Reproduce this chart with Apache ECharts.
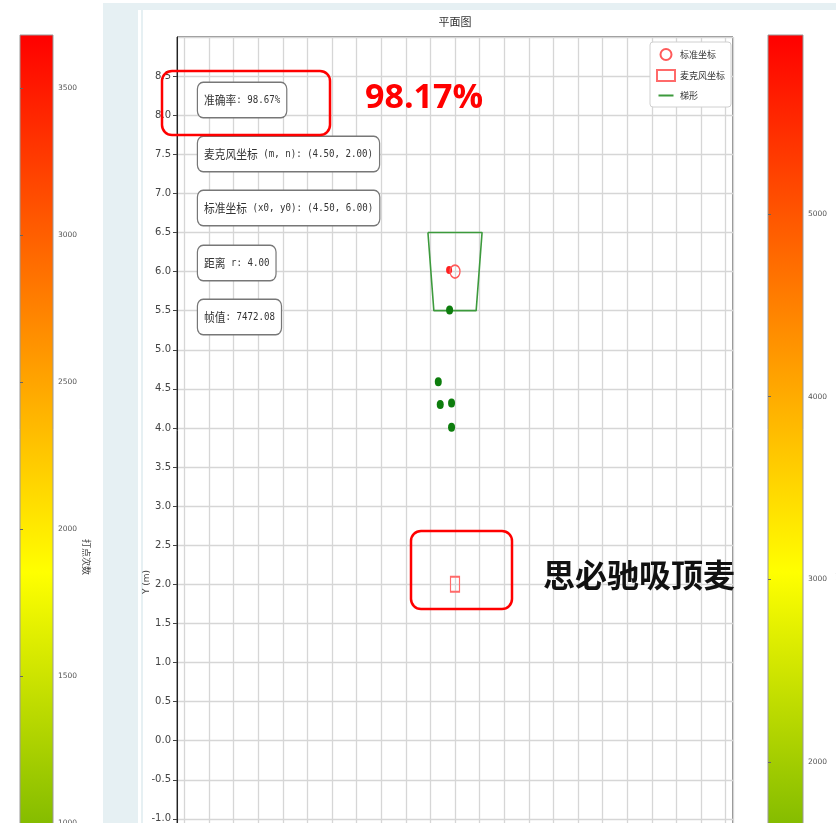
<!DOCTYPE html>
<html>
<head>
<meta charset="utf-8">
<script src="https://cdn.jsdelivr.net/npm/echarts@6/dist/echarts.min.js"></script>
<style>
html, body { margin: 0; padding: 0; background: #fff; }
#chart { width: 836px; height: 823px; }
</style>
</head>
<body>
<div id="chart"></div>
<script>
// 数据
var standardPoint = [[4.5, 6.0]];
var micPoint = [[4.5, 2.0]];
var estimatePoint = [[4.38, 6.02]];
var hitPoints = [[4.39, 5.51], [4.16, 4.59], [4.2, 4.3], [4.43, 4.32], [4.43, 4.01]];
var trapezoid = [[3.95, 6.5], [5.05, 6.5], [4.93, 5.5], [4.07, 5.5], [3.95, 6.5]];
var xRange = [-1.15, 10.15];
var yRange = [-1.5, 9];
var leftBarRange = [993, 3680];
var rightBarRange = [1655, 5980];
var infoTexts = ['准确率: 98.67%', '麦克风坐标 (m, n): (4.50, 2.00)', '标准坐标 (x0, y0): (4.50, 6.00)', '距离 r: 4.00', '帧值: 7472.08'];
var infoTops = [83, 137, 191, 246, 300];

var cjk = '"Noto Sans CJK SC", sans-serif';
var num = '"DejaVu Sans", sans-serif';

var myChart = echarts.init(document.getElementById('chart'));

function barGradient() {
    return new echarts.graphic.LinearGradient(0, 0, 0, 1, [
        { offset: 0, color: '#ff0000' },
        { offset: 0.68, color: '#ffff00' },
        { offset: 1, color: '#84bc00' }
    ]);
}

// 中文用黑体, 西文用等宽半角
function toRich(t) {
    return t.replace(/([\u4e00-\u9fa5]+)|([^\u4e00-\u9fa5]+)/g, function (m, c, l) {
        return c ? '{c|' + c + '}' : '{l|' + l + '}';
    });
}

var graphics = [
    // 背景面板
    { type: 'rect', shape: { x: 103, y: 3, width: 733, height: 7 }, style: { fill: '#e6f0f3' }, z: -10 },
    { type: 'rect', shape: { x: 103, y: 3, width: 35, height: 820 }, style: { fill: '#e6f0f3' }, z: -10 },
    { type: 'rect', shape: { x: 141, y: 10, width: 2, height: 813 }, style: { fill: '#e6f0f3' }, z: -10 },
    { type: 'text', x: 455, y: 22, style: { text: '平面图', fill: '#333', font: '11px ' + cjk, align: 'center', verticalAlign: 'middle' } },
    { type: 'text', x: 147, y: 582, rotation: Math.PI / 2, style: { text: 'Y (m)', fill: '#444', font: '9px ' + num, align: 'center', verticalAlign: 'middle' } },
    { type: 'text', x: 86, y: 557, rotation: -Math.PI / 2, style: { text: '打点次数', fill: '#444', font: '9px ' + cjk, align: 'center', verticalAlign: 'middle' } },
    { type: 'text', x: 840, y: 580, rotation: -Math.PI / 2, style: { text: '帧值', fill: '#444', font: '9px ' + cjk, align: 'center', verticalAlign: 'middle' } }
];

infoTexts.forEach(function (t, i) {
    graphics.push({
        type: 'text',
        x: 198,
        y: infoTops[i],
        scaleX: 0.86,
        z: 50,
        style: {
            text: toRich(t),
            fill: '#333',
            backgroundColor: '#fff',
            borderColor: '#777',
            borderWidth: 1.4,
            borderRadius: 6,
            padding: [10, 7, 9, 7],
            rich: {
                c: { fontFamily: cjk, fontSize: 12.5, lineHeight: 15, fill: '#333' },
                l: { fontFamily: '"DejaVu Sans Mono", monospace', fontSize: 10.6, lineHeight: 15, fill: '#333' }
            }
        }
    });
});

// 后期标注
graphics.push(
    { type: 'rect', z: 100, shape: { x: 162, y: 71, width: 168, height: 64, r: 10 }, style: { fill: 'none', stroke: '#ff0000', lineWidth: 2.5 } },
    { type: 'text', z: 100, x: 365, y: 98, style: { text: '98.17%', fill: '#ff0000', font: 'bold 34px "Open Sans", sans-serif', verticalAlign: 'middle' } },
    { type: 'rect', z: 100, shape: { x: 411, y: 531, width: 101, height: 78, r: 10 }, style: { fill: 'none', stroke: '#ff0000', lineWidth: 2.5 } },
    { type: 'text', z: 100, x: 543, y: 575, style: { text: '思必驰吸顶麦', fill: '#111', font: 'bold 32px ' + cjk, verticalAlign: 'middle' } }
);

option = {
    animation: false,
    backgroundColor: '#fff',
    legend: {
        orient: 'vertical',
        left: 650,
        top: 42,
        itemWidth: 18,
        itemHeight: 11,
        itemGap: 8,
        padding: [6, 6, 6, 6],
        borderColor: '#d0d0d0',
        borderWidth: 1,
        borderRadius: 3,
        backgroundColor: '#fff',
        textStyle: { fontSize: 9, color: '#333', fontFamily: cjk },
        data: [
            { name: '标准坐标', icon: 'circle' },
            { name: '麦克风坐标', icon: 'rect' },
            { name: '梯形', icon: 'path://M0,0L0.01,0M0,9L30,9L30,13L0,13ZM0,22L0.01,22' }
        ]
    },
    grid: [
        { left: 177, top: 37, width: 556, height: 821, outerBoundsMode: 'none', show: true, borderColor: '#222', borderWidth: 1, backgroundColor: '#fff' },
        { left: 20, top: 35, width: 33, height: 790, outerBoundsMode: 'none', show: true, borderColor: '#999', borderWidth: 1, backgroundColor: barGradient() },
        { left: 768, top: 35, width: 35, height: 790, outerBoundsMode: 'none', show: true, borderColor: '#999', borderWidth: 1, backgroundColor: barGradient() }
    ],
    xAxis: [
        {
            type: 'value', gridIndex: 0, min: xRange[0], max: xRange[1], splitNumber: 22,
            axisLabel: { show: false }, axisTick: { show: false },
            axisLine: { show: false, onZero: false },
            splitLine: { show: true, lineStyle: { color: '#d6d6d6', width: 1.3 } }
        },
        { type: 'value', gridIndex: 1, show: false, min: 0, max: 1 },
        { type: 'value', gridIndex: 2, show: false, min: 0, max: 1 }
    ],
    yAxis: [
        {
            type: 'value', gridIndex: 0, min: yRange[0], max: yRange[1], interval: 0.5,
            axisLine: { show: true, onZero: false, lineStyle: { color: '#222' } },
            axisTick: { show: true, length: 4, lineStyle: { color: '#444' } },
            axisLabel: {
                fontSize: 10, color: '#444', fontFamily: num, margin: 6, showMaxLabel: false,
                formatter: function (v) { return v.toFixed(1); }
            },
            splitLine: { show: true, lineStyle: { color: '#d6d6d6', width: 1.3 } }
        },
        {
            type: 'value', gridIndex: 1, position: 'right', min: leftBarRange[0], max: leftBarRange[1], splitNumber: 5,
            axisLine: { show: false },
            axisTick: { show: true, length: 3, lineStyle: { color: '#666' } },
            axisLabel: { fontSize: 7.5, color: '#555', fontFamily: num, margin: 5, showMinLabel: false, showMaxLabel: false, formatter: function (v) { return String(v); } },
            splitLine: { show: false }
        },
        {
            type: 'value', gridIndex: 2, position: 'right', min: rightBarRange[0], max: rightBarRange[1], splitNumber: 5,
            axisLine: { show: false },
            axisTick: { show: true, length: 3, lineStyle: { color: '#666' } },
            axisLabel: { fontSize: 7.5, color: '#555', fontFamily: num, margin: 5, showMinLabel: false, showMaxLabel: false, formatter: function (v) { return String(v); } },
            splitLine: { show: false }
        }
    ],
    series: [
        {
            name: '梯形',
            type: 'line',
            data: trapezoid,
            symbol: 'none',
            lineStyle: { color: '#3c9a3c', width: 1.6 },
            itemStyle: { color: '#3c9a3c' },
            z: 3
        },
        {
            name: '打点',
            type: 'scatter',
            data: hitPoints,
            symbolSize: [7, 9],
            itemStyle: { color: '#0d7d0d', opacity: 1 },
            z: 4
        },
        {
            name: '估计点',
            type: 'scatter',
            data: estimatePoint,
            symbolSize: [6, 8],
            itemStyle: { color: '#ff2020', opacity: 1 },
            z: 5
        },
        {
            name: '标准坐标',
            type: 'scatter',
            data: standardPoint,
            symbol: 'circle',
            symbolSize: [10, 13],
            itemStyle: { color: 'rgba(255,255,255,0)', borderColor: '#ff5a5a', borderWidth: 1.5, opacity: 1 },
            z: 6
        },
        {
            name: '麦克风坐标',
            type: 'scatter',
            data: micPoint,
            symbol: 'rect',
            symbolSize: [9, 15],
            itemStyle: { color: 'rgba(255,255,255,0)', borderColor: '#ff6a6a', borderWidth: 1.5, opacity: 1 },
            z: 6
        }
    ],
    graphic: graphics
};
myChart.setOption(option);
</script>
</body>
</html>
